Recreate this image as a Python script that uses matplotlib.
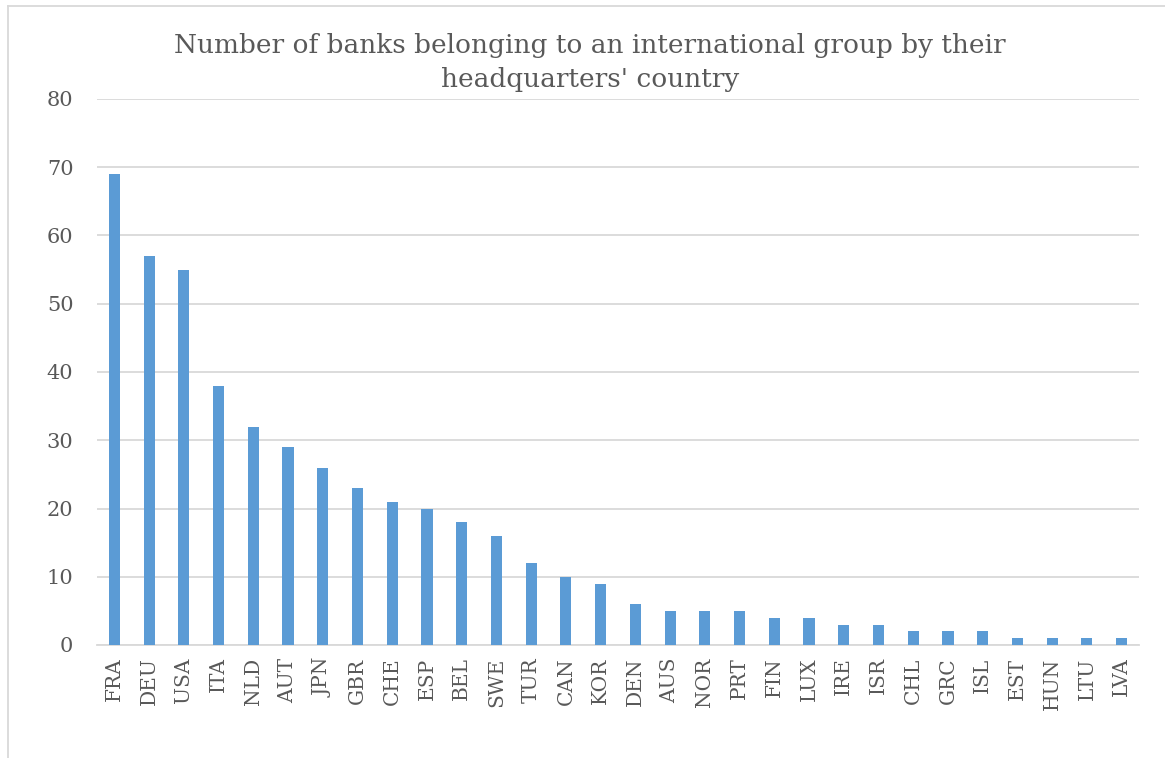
import matplotlib
matplotlib.use("Agg")
import matplotlib.pyplot as plt
from matplotlib.lines import Line2D

countries = ["FRA", "DEU", "USA", "ITA", "NLD", "AUT", "JPN", "GBR", "CHE", "ESP",
             "BEL", "SWE", "TUR", "CAN", "KOR", "DEN", "AUS", "NOR", "PRT", "FIN",
             "LUX", "IRE", "ISR", "CHL", "GRC", "ISL", "EST", "HUN", "LTU", "LVA"]
banks = [69, 57, 55, 38, 32, 29, 26, 23, 21, 20,
         18, 16, 12, 10, 9, 6, 5, 5, 5, 4,
         4, 3, 3, 2, 2, 2, 1, 1, 1, 1]
yticks = [0, 10, 20, 30, 40, 50, 60, 70, 80]

W, H = 1165, 758
fig = plt.figure(figsize=(W / 100, H / 100), dpi=100)
ax = fig.add_axes([97 / W, (H - 645) / H, (1139 - 97) / W, (645 - 99) / H])

txt = "#595959"
font = "DejaVu Serif"
x = list(range(len(countries)))
ax.bar(x, banks, width=0.32, color="#5B9BD5", zorder=3)
ax.set_xlim(-0.5, len(countries) - 0.5)
ax.set_ylim(0, 80)
ax.set_yticks(yticks)
ax.set_yticklabels([str(v) for v in yticks], fontsize=15, color=txt, family=font)
ax.set_xticks(x)
ax.set_xticklabels(countries, rotation=90, fontsize=14.5, color=txt, family=font)
ax.grid(axis="y", color="#D9D9D9", linewidth=1.3, zorder=0)
for s in ["top", "right", "left"]:
    ax.spines[s].set_visible(False)
ax.spines["bottom"].set_color("#D9D9D9")
ax.spines["bottom"].set_linewidth(1.3)
ax.tick_params(axis="both", length=0)
ax.tick_params(axis="y", pad=17)
ax.tick_params(axis="x", pad=9)

fig.text(590 / W, 1 - 63 / H,
         "Number of banks belonging to an international group by their\nheadquarters' country",
         ha="center", va="center", fontsize=19, color=txt, family=font, linespacing=1.45)

# outer chart border (left and top visible)
fig.add_artist(Line2D([8 / W, 8 / W], [0, 1 - 6 / H], color="#D9D9D9", linewidth=1.3))
fig.add_artist(Line2D([8 / W, 1], [1 - 6 / H, 1 - 6 / H], color="#D9D9D9", linewidth=1.3))

fig.savefig("out.png", dpi=100)
